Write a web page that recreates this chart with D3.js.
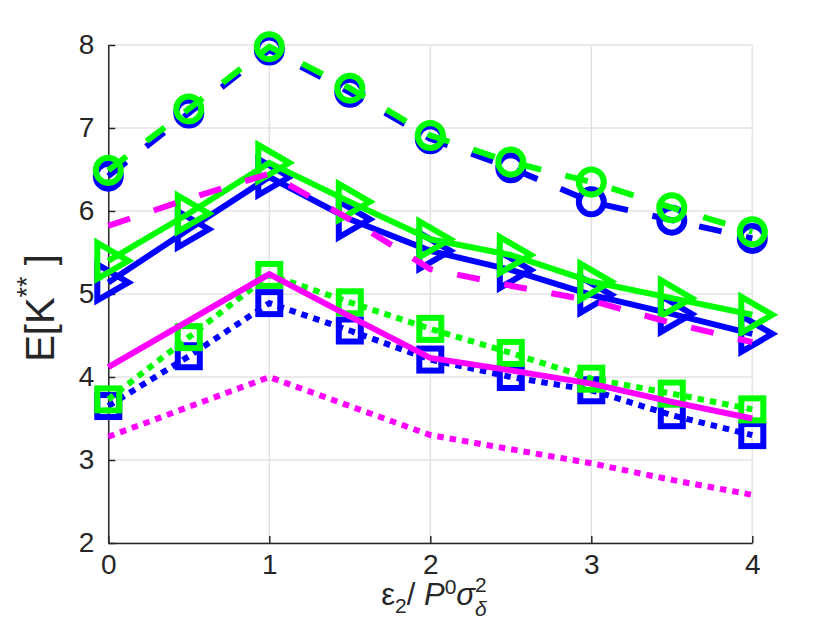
<!DOCTYPE html>
<html><head><meta charset="utf-8">
<script src="https://cdn.jsdelivr.net/npm/d3@7"></script>
<style>body{margin:0;background:#fff}</style>
</head><body><svg id="c" width="830" height="623"></svg>
<script>
// ---- data ----
const xVals = [0, 0.5, 1, 1.5, 2, 2.5, 3, 3.5, 4];
const xTicks = [0, 1, 2, 3, 4];
const yTicks = [2, 3, 4, 5, 6, 7, 8];
const blueCircle  = [6.42, 7.18, 7.94, 7.43, 6.87, 6.52, 6.11, 5.89, 5.67];
const greenCircle = [6.49, 7.23, 7.98, 7.48, 6.91, 6.59, 6.35, 6.04, 5.75];
const blueTri     = [5.14, 5.78, 6.41, 5.90, 5.52, 5.29, 4.99, 4.76, 4.52];
const greenTri    = [5.40, 5.97, 6.58, 6.11, 5.66, 5.47, 5.15, 4.95, 4.75];
const blueSq      = [3.65, 4.25, 4.89, 4.56, 4.21, 4.00, 3.84, 3.54, 3.30];
const greenSq     = [3.73, 4.48, 5.23, 4.90, 4.58, 4.29, 3.98, 3.80, 3.61];
const magDash     = [5.82, 6.15, 6.45, 5.90, 5.30, 5.10, 4.92, 4.65, 4.42];
const magSolid    = [4.12, 4.68, 5.24, 4.73, 4.23, 4.08, 3.92, 3.70, 3.50];
const magDot      = [3.28, 3.64, 4.00, 3.65, 3.30, 3.13, 2.96, 2.76, 2.58];

const BLUE = '#0000ff', GREEN = '#00ff00', MAG = '#ff00ff';
const DASH = '23,25', DOT = '6.5,6';
const series = [
  {v: blueSq, c: BLUE, dash: DOT, m: 'square'},
  {v: blueTri, c: BLUE, dash: null, m: 'tri'},
  {v: blueCircle, c: BLUE, dash: DASH, m: 'circle'},
  {v: greenSq, c: GREEN, dash: DOT, m: 'square'},
  {v: greenTri, c: GREEN, dash: null, m: 'tri'},
  {v: greenCircle, c: GREEN, dash: DASH, m: 'circle'},
  {v: magDash, c: MAG, dash: DASH, m: null},
  {v: magSolid, c: MAG, dash: null, m: null},
  {v: magDot, c: MAG, dash: DOT, m: null}
];

const W = 830, H = 623;
const svg = d3.select('#c');
svg.append('rect').attr('width', W).attr('height', H).attr('fill', '#fff');
const x = d3.scaleLinear().domain([0, 4]).range([108.3, 752.3]);
const y = d3.scaleLinear().domain([2, 8]).range([543, 45]);
const FONT = '"Liberation Sans", Arial, Helvetica, sans-serif';
const AX = '#262626';

// grid
const grid = svg.append('g');
grid.selectAll('.gx').data(xTicks).enter().append('line')
  .attr('x1', d => x(d)).attr('x2', d => x(d)).attr('y1', y(2)).attr('y2', y(8))
  .attr('stroke', '#e3e3e3').attr('stroke-width', 1.5);
grid.selectAll('.gy').data(yTicks).enter().append('line')
  .attr('x1', x(0)).attr('x2', x(4)).attr('y1', d => y(d)).attr('y2', d => y(d))
  .attr('stroke', '#e3e3e3').attr('stroke-width', 1.5);

// axes
const ax = svg.append('g').attr('transform', `translate(${x(0)},0)`)
  .call(d3.axisLeft(y).tickValues(yTicks).tickFormat(d3.format('d')).tickSizeInner(-7).tickSizeOuter(0).tickPadding(14));
const bx = svg.append('g').attr('transform', `translate(0,${y(2)})`)
  .call(d3.axisBottom(x).tickValues(xTicks).tickFormat(d3.format('d')).tickSizeInner(-7).tickSizeOuter(0).tickPadding(11));
[ax, bx].forEach(g => {
  g.select('.domain').attr('stroke', AX).attr('stroke-width', 1.5);
  g.selectAll('.tick line').attr('stroke', AX).attr('stroke-width', 1.5);
  g.selectAll('.tick text').attr('fill', AX).attr('font-size', 28).attr('font-family', FONT);
});

// series
const line = d3.line().x((d, i) => x(xVals[i])).y(d => y(d));
const plot = svg.append('g');
series.forEach(s => {
  const g = plot.append('g');
  g.append('path').datum(s.v).attr('d', line).attr('fill', 'none')
    .attr('stroke', s.c).attr('stroke-width', 6)
    .attr('stroke-dasharray', s.dash).attr('stroke-linejoin', 'round');
  const pts = s.v.map((d, i) => [x(xVals[i]), y(d)]);
  if (s.m === 'circle') {
    g.selectAll('circle').data(pts).enter().append('circle')
      .attr('cx', d => d[0]).attr('cy', d => d[1]).attr('r', 12.5)
      .attr('fill', 'none').attr('stroke', s.c).attr('stroke-width', 6);
  } else if (s.m === 'square') {
    g.selectAll('rect').data(pts).enter().append('rect')
      .attr('x', d => d[0] - 11).attr('y', d => d[1] - 11).attr('width', 22).attr('height', 22)
      .attr('fill', 'none').attr('stroke', s.c).attr('stroke-width', 6);
  } else if (s.m === 'tri') {
    g.selectAll('path.m').data(pts).enter().append('path').attr('class', 'm')
      .attr('d', d => `M${d[0] - 11},${d[1] - 18}L${d[0] + 20},${d[1]}L${d[0] - 11},${d[1] + 18}Z`)
      .attr('fill', 'none').attr('stroke', s.c).attr('stroke-width', 6).attr('stroke-linejoin', 'miter');
  }
});

// y label
const yl = svg.append('text').attr('transform', 'translate(54,308) rotate(-90)')
  .attr('text-anchor', 'middle').attr('font-family', FONT).attr('font-size', 40).attr('fill', AX);
yl.append('tspan').text('E[K');
yl.append('tspan').attr('font-size', 27).attr('dy', -18).text('**');
yl.append('tspan').attr('dy', 18).text(' ]');

// x label
const xl = svg.append('g').attr('fill', AX).attr('font-family', FONT);
let cx = 0;
const base = 605;
function piece(txt, size, dy, italic, advance = true) {
  const t = xl.append('text').attr('x', cx).attr('y', base + dy).attr('font-size', size)
    .attr('font-style', italic ? 'italic' : 'normal').attr('xml:space', 'preserve').text(txt);
  const w = t.node().getComputedTextLength();
  if (advance) cx += w;
  return w;
}
piece('\u03B5', 31, 0, false);
piece('2', 21, 8, false);
piece('/\u00A0', 31, 0, false);
piece('P', 31, 0, true);
piece('0', 21, -11, false);
piece('\u03C3', 31, 0, true);
const w2 = piece('2', 21, -13, false, false);
const wd = piece('\u03B4', 21, 11, true, false);
cx += Math.max(w2, wd);
xl.attr('transform', `translate(${434 - cx / 2},0)`);
</script></body></html>
